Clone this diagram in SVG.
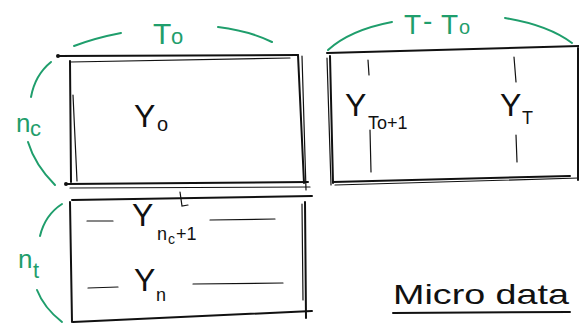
<svg xmlns="http://www.w3.org/2000/svg" width="579" height="327" viewBox="0 0 579 327">
<style>
.ln{fill:none;stroke:#111;stroke-width:2;stroke-linecap:round}
.tn{fill:none;stroke:#111;stroke-width:1.2;stroke-linecap:round}
.gr{fill:none;stroke:#1f9e6c;stroke-width:2;stroke-linecap:round}
.gt{fill:#1f9e6c;font-family:"Liberation Sans",Arial,sans-serif}
.bt{fill:#111;font-family:"Liberation Sans",Arial,sans-serif}
</style>
<rect width="579" height="327" fill="#fff"/>
<g id="control-pre">
<path class="ln" d="M58 56 L298 55"/>
<path class="tn" d="M70 62 L290 58"/>
<path class="ln" d="M70 61 L71 182"/>
<path class="tn" d="M73 95 L77 181"/>
<path class="ln" d="M298 55 L304 183"/>
<path class="tn" d="M302 56 L306 190"/>
<path class="ln" d="M66 184 L308 182"/>
<path class="tn" d="M70 188 L310 187"/>
<circle cx="58" cy="56" r="2" fill="#111"/>
<circle cx="66" cy="184" r="2" fill="#111"/>
<text class="bt" x="134" y="127" font-size="32">Y</text>
<text class="bt" x="157" y="131" font-size="20">o</text>
</g>
<g id="control-post">
<path class="ln" d="M327 53 L579 46"/>
<path class="ln" d="M330 56 L333 183"/>
<path class="tn" d="M327 58 L331 185"/>
<path class="ln" d="M333 182 L570 176"/>
<path class="tn" d="M335 185 L579 178"/>
<path class="ln" d="M578 48 L578 180"/>
<path class="tn" d="M368 60 L369 75"/>
<path class="tn" d="M370 130 L371 172"/>
<path class="tn" d="M514 57 L516 82"/>
<path class="tn" d="M516 135 L517 162"/>
<text class="bt" x="345" y="116" font-size="32">Y</text>
<text class="bt" x="368" y="129" font-size="18">To+1</text>
<text class="bt" x="500" y="116" font-size="32">Y</text>
<text class="bt" x="522" y="124" font-size="18">T</text>
</g>
<g id="treated">
<path class="ln" d="M72 200 L312 196"/>
<path class="ln" d="M70 202 L72 322"/>
<path class="ln" d="M305 202 L306 318"/>
<path class="tn" d="M302 204 L303 300"/>
<path class="ln" d="M73 322 L312 311"/>
<path class="tn" d="M180 192 L182 206 L188 205"/>
<path class="tn" d="M87 221 L113 221"/>
<path class="tn" d="M210 220 L275 219"/>
<path class="tn" d="M88 288 L118 287"/>
<path class="tn" d="M193 284 L283 283"/>
<text class="bt" x="132" y="226" font-size="32">Y</text>
<text class="bt" x="157" y="240" font-size="18">n</text>
<text class="bt" x="168" y="244" font-size="14">c</text>
<text class="bt" x="176" y="240" font-size="18">+1</text>
<text class="bt" x="134" y="291" font-size="32">Y</text>
<text class="bt" x="156" y="301" font-size="18">n</text>
</g>
<g id="labels">
<path class="gr" d="M74 46 Q95 38 121 33"/>
<path class="gr" d="M218 27 Q250 31 272 42"/>
<text class="gt" x="153" y="44" font-size="30">T</text>
<text class="gt" x="171" y="44" font-size="22">o</text>
<path class="gr" d="M328 50 Q350 30 392 22"/>
<path class="gr" d="M505 18 Q548 25 572 43"/>
<text class="gt" x="404" y="34" font-size="28">T</text>
<text class="gt" x="423" y="30" font-size="28">-</text>
<text class="gt" x="441" y="34" font-size="28">T</text>
<text class="gt" x="459" y="34" font-size="20">o</text>
<path class="gr" d="M51 62 Q35 75 31 97"/>
<path class="gr" d="M28 142 Q35 165 55 185"/>
<text class="gt" x="16" y="132" font-size="26">n</text>
<text class="gt" x="30" y="136" font-size="22">c</text>
<path class="gr" d="M62 204 Q45 215 40 236"/>
<path class="gr" d="M37 290 Q44 308 62 322"/>
<text class="gt" x="18" y="268" font-size="26">n</text>
<text class="gt" x="33" y="278" font-size="22">t</text>
</g>
<g id="title">
<text class="bt" x="393" y="304" font-size="28" textLength="176" lengthAdjust="spacingAndGlyphs">Micro data</text>
<path class="ln" d="M393 313 L570 312"/>
</g>
</svg>
